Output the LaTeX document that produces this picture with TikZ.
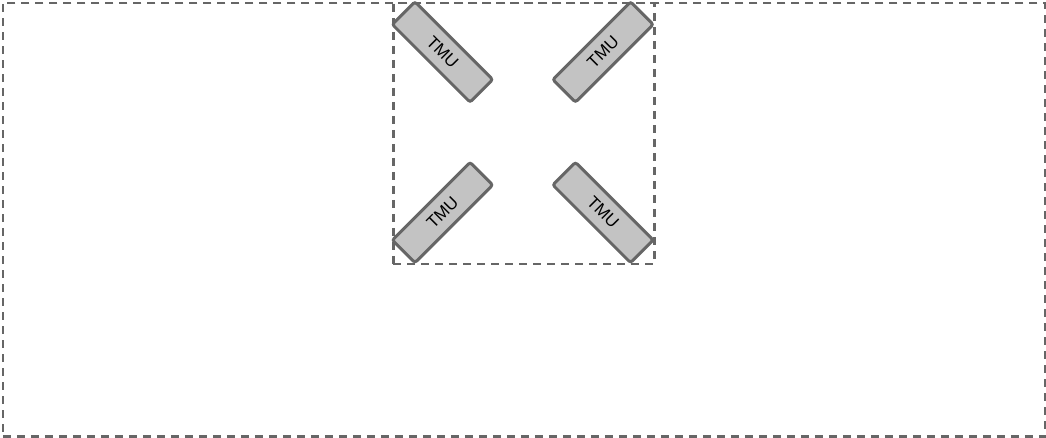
\documentclass[tikz,border=0pt]{standalone}
\usepackage{fontspec}
\setmainfont{Liberation Sans}
\definecolor{edgegray}{HTML}{666666}
\definecolor{fillgray}{HTML}{C3C3C3}
\begin{document}
\begin{tikzpicture}[x=1pt,y=-1pt,
  frame/.style={draw=edgegray,line width=2.6pt,dash pattern=on 8pt off 6pt},
  tmu/.style={draw=edgegray,fill=fillgray,line width=3pt,rounded corners=2.5pt,
    minimum width=110pt,minimum height=32pt,inner sep=0pt,font=\fontsize{17}{19}\selectfont}]
\useasboundingbox (0,0) rectangle (1046,437);
\node[frame,minimum width=1042.5pt,minimum height=433.5pt,inner sep=0pt,anchor=north west] (outer) at (1.5,1.5) {};
\node[frame,minimum width=261pt,minimum height=261pt,inner sep=0pt,anchor=north west] (inner) at (392,1.5) {};
\node[tmu,rotate=-45] (tl) at (442.5,52) {TMU};
\node[tmu,rotate=45] (tr) at (603,52) {TMU};
\node[tmu,rotate=45] (bl) at (442.5,212.5) {TMU};
\node[tmu,rotate=-45] (br) at (603,212.5) {TMU};
\end{tikzpicture}
\end{document}
